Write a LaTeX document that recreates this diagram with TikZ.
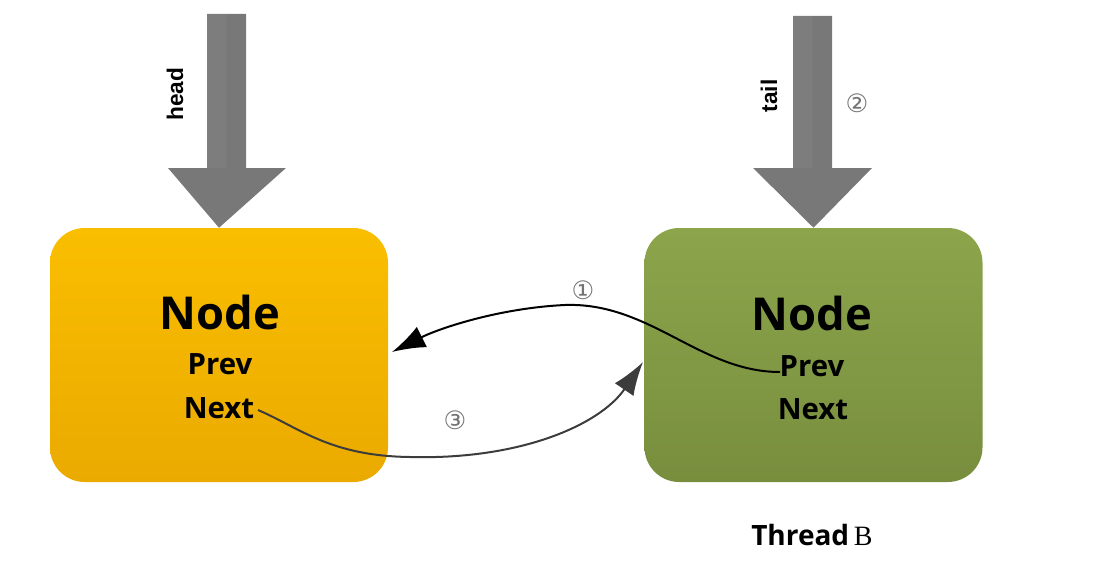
\documentclass[tikz,border=0pt]{standalone}
\usepackage{fontspec}
\setmainfont{Open Sans}
\newfontfamily\arialfont{Liberation Sans}
\newfontfamily\seriffont{Liberation Serif}
\newfontfamily\symfont{DejaVu Sans}
\usetikzlibrary{arrows.meta}
\definecolor{orangetop}{RGB}{250,190,0}
\definecolor{orangebot}{RGB}{234,170,0}
\definecolor{greentop}{RGB}{140,165,75}
\definecolor{greenbot}{RGB}{120,142,62}
\definecolor{arrowgray}{RGB}{120,120,120}
\definecolor{linkdark}{RGB}{60,60,60}
\tikzset{
  nodebox/.style={rounded corners=26pt, minimum width=253.5pt, minimum height=190.5pt, inner sep=0pt},
  bigtitle/.style={font=\fontsize{34}{38}\selectfont\bfseries, inner sep=0pt},
  field/.style={font=\fontsize{22}{26}\selectfont\bfseries, inner sep=0pt},
  ptrlabel/.style={font=\arialfont\fontsize{17}{20}\selectfont\bfseries, rotate=90, inner sep=0pt},
  step label/.style={font=\symfont\fontsize{19}{21}\selectfont, text=black!55, inner sep=0pt},
  link/.style={line width=1.5pt, -{Latex[length=25pt,width=17pt]}}
}
\begin{document}
\begin{tikzpicture}[x=0.75pt,y=-0.75pt]
\useasboundingbox (0,0) rectangle (1099,567);
% boxes
\node[nodebox, top color=orangetop, bottom color=orangebot] (left) at (219,355) {};
\node[nodebox, top color=greentop, bottom color=greenbot] (right) at (813.5,355) {};
% texts
\node[bigtitle] (ltitle) at (220,312) {Node};
\node[field] (lprev) at (220,364) {Prev};
\node[field] (lnext) at (219,408) {Next};
\node[bigtitle] (rtitle) at (812,313) {Node};
\node[field] (rprev) at (812,366) {Prev};
\node[field] (rnext) at (813,409) {Next};
% head arrow
\fill[arrowgray] (207,14) -- (246,14) -- (246,168) -- (286,168) -- (left.north) -- (168,168) -- (207,168) -- cycle;
\fill[white,opacity=0.04] (207,14) -- (226.5,14) -- (226.5,168) -- (168,168) -- (207,168) -- cycle;
\node[ptrlabel] (headlbl) at (175,94) {head};
% tail arrow
\fill[arrowgray] (793,16) -- (832,16) -- (832,168) -- (872,168) -- (right.north) -- (753,168) -- (793,168) -- cycle;
\fill[white,opacity=0.04] (793,16) -- (812.5,16) -- (812.5,168) -- (753,168) -- (793,168) -- cycle;
\node[ptrlabel] (taillbl) at (769,96) {tail};
\node[step label] (s2) at (857,103) {②};
% links
\coordinate (p1) at (780,372);
\coordinate (t1) at (392,352);
\draw[link, black] (p1) .. controls (700,372) and (650,302) .. (565,305)
   .. controls (500,308) and (440,328) .. (t1);
\coordinate (n1) at (258,410);
\coordinate (t3) at (643,362);
\draw[link, linkdark] (n1) .. controls (300,428) and (330,456) .. (410,457)
   .. controls (520,460) and (600,425) .. (t3);
\node[step label] (s1) at (583,290) {①};
\node[step label] (s3) at (455,420) {③};
% thread label
\node[inner sep=0pt, anchor=base west] (thread) at (751,545) {\fontsize{21}{24}\selectfont\bfseries Thread\,{\seriffont\mdseries B}};
\end{tikzpicture}
\end{document}
